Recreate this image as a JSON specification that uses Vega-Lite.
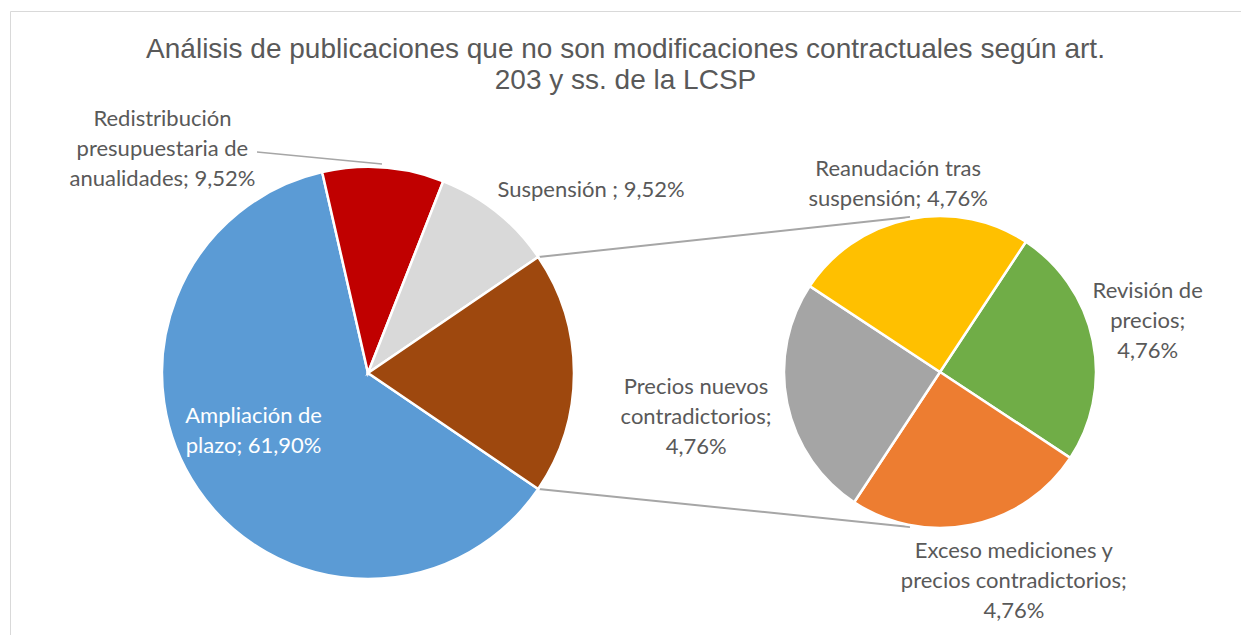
{
  "$schema": "https://vega.github.io/schema/vega-lite/v6.json",
  "width": 1231,
  "height": 624,
  "autosize": {"type": "none"},
  "padding": {"left": 10, "top": 11, "right": 0, "bottom": 0},
  "background": "white",
  "view": {"stroke": "#d9d9d9", "strokeWidth": 1},
  "title": {
    "text": ["Análisis de publicaciones que no son modificaciones contractuales según art.", "203 y ss. de la LCSP"],
    "font": "Liberation Sans",
    "fontSize": 28,
    "fontWeight": "normal",
    "color": "#595959",
    "anchor": "middle",
    "frame": "group",
    "baseline": "top",
    "lineHeight": 31,
    "offset": -84
  },
  "data": {
    "values": [
      {"categoria": "Ampliación de plazo", "valor": 61.90, "grafico": "principal", "grupo": "Ampliación de plazo", "orden": 1, "etiqueta": "Ampliación de\nplazo; 61,90%"},
      {"categoria": "Redistribución presupuestaria de anualidades", "valor": 9.52, "grafico": "principal", "grupo": "Redistribución presupuestaria de anualidades", "orden": 2, "etiqueta": "Redistribución\npresupuestaria de\nanualidades; 9,52%"},
      {"categoria": "Suspensión", "valor": 9.52, "grafico": "principal", "grupo": "Suspensión", "orden": 3, "etiqueta": "Suspensión ; 9,52%"},
      {"categoria": "Revisión de precios", "valor": 4.76, "grafico": "secundario", "grupo": "Otros", "orden": 4, "etiqueta": "Revisión de\nprecios;\n4,76%"},
      {"categoria": "Exceso mediciones y precios contradictorios", "valor": 4.76, "grafico": "secundario", "grupo": "Otros", "orden": 5, "etiqueta": "Exceso mediciones y\nprecios contradictorios;\n4,76%"},
      {"categoria": "Precios nuevos contradictorios", "valor": 4.76, "grafico": "secundario", "grupo": "Otros", "orden": 6, "etiqueta": "Precios nuevos\ncontradictorios;\n4,76%"},
      {"categoria": "Reanudación tras suspensión", "valor": 4.76, "grafico": "secundario", "grupo": "Otros", "orden": 7, "etiqueta": "Reanudación tras\nsuspensión; 4,76%"}
    ]
  },
  "layer": [
    {
      "transform": [{"aggregate": [{"op": "count", "as": "n"}]}],
      "mark": {"type": "rule", "color": "#a6a6a6", "strokeWidth": 2},
      "encoding": {
        "x": {"datum": 538.5, "type": "quantitative", "scale": {"domain": [10, 1241], "nice": false, "zero": false}, "axis": null},
        "y": {"datum": 257, "type": "quantitative", "scale": {"domain": [11, 635], "nice": false, "zero": false, "reverse": true}, "axis": null},
        "x2": {"datum": 910},
        "y2": {"datum": 217}
      }
    },
    {
      "transform": [{"aggregate": [{"op": "count", "as": "n"}]}],
      "mark": {"type": "rule", "color": "#a6a6a6", "strokeWidth": 2},
      "encoding": {
        "x": {"datum": 538.5, "type": "quantitative", "scale": {"domain": [10, 1241], "nice": false, "zero": false}, "axis": null},
        "y": {"datum": 489, "type": "quantitative", "scale": {"domain": [11, 635], "nice": false, "zero": false, "reverse": true}, "axis": null},
        "x2": {"datum": 910},
        "y2": {"datum": 527}
      }
    },
    {
      "transform": [{"aggregate": [{"op": "count", "as": "n"}]}],
      "mark": {"type": "rule", "color": "#a6a6a6", "strokeWidth": 1.5},
      "encoding": {
        "x": {"datum": 257, "type": "quantitative", "scale": {"domain": [10, 1241], "nice": false, "zero": false}, "axis": null},
        "y": {"datum": 152, "type": "quantitative", "scale": {"domain": [11, 635], "nice": false, "zero": false, "reverse": true}, "axis": null},
        "x2": {"datum": 382},
        "y2": {"datum": 164}
      }
    },
    {
      "transform": [
        {"aggregate": [
          {"op": "sum", "field": "valor", "as": "valor"},
          {"op": "min", "field": "orden", "as": "orden"},
          {"op": "max", "field": "etiqueta", "as": "etiqueta"}
        ], "groupby": ["grupo"]}
      ],
      "encoding": {
        "x": {"datum": 368, "type": "quantitative", "scale": {"domain": [10, 1241], "nice": false, "zero": false}, "axis": null},
        "y": {"datum": 373, "type": "quantitative", "scale": {"domain": [11, 635], "nice": false, "zero": false, "reverse": true}, "axis": null},
        "theta": {"field": "valor", "type": "quantitative", "stack": true, "scale": {"range": [2.1689, 8.4521]}},
        "order": {"field": "orden", "type": "quantitative"}
      },
      "layer": [
        {
          "mark": {"type": "arc", "radius": 206, "stroke": "white", "strokeWidth": 2.5},
          "encoding": {
            "color": {
              "field": "grupo", "type": "nominal", "legend": null,
              "scale": {
                "domain": ["Ampliación de plazo", "Redistribución presupuestaria de anualidades", "Suspensión", "Otros", "Revisión de precios", "Exceso mediciones y precios contradictorios", "Precios nuevos contradictorios", "Reanudación tras suspensión"],
                "range": ["#5b9bd5", "#c00000", "#d9d9d9", "#9e480e", "#70ad47", "#ed7d31", "#a5a5a5", "#ffc000"]
              }
            }
          }
        },
        {
          "mark": {"type": "text", "radius": 130, "dx": -7, "dy": -30, "align": "center", "baseline": "middle", "lineBreak": "\n", "lineHeight": 30, "font": "Lato", "fontSize": 22, "color": "white"},
          "encoding": {"text": {"condition": {"test": "datum.grupo === 'Ampliación de plazo'", "field": "etiqueta", "type": "nominal"}, "value": ""}}
        },
        {
          "mark": {"type": "text", "radius": 206, "dx": -221, "dy": -49, "align": "center", "baseline": "middle", "lineBreak": "\n", "lineHeight": 30, "font": "Lato", "fontSize": 22, "color": "#595959"},
          "encoding": {"text": {"condition": {"test": "datum.grupo === 'Redistribución presupuestaria de anualidades'", "field": "etiqueta", "type": "nominal"}, "value": ""}}
        },
        {
          "mark": {"type": "text", "radius": 206, "dx": 1, "dy": -15, "align": "left", "baseline": "alphabetic", "lineBreak": "\n", "lineHeight": 30, "font": "Lato", "fontSize": 22, "color": "#595959"},
          "encoding": {"text": {"condition": {"test": "datum.grupo === 'Suspensión'", "field": "etiqueta", "type": "nominal"}, "value": ""}}
        }
      ]
    },
    {
      "transform": [{"filter": "datum.grafico === 'secundario'"}],
      "encoding": {
        "x": {"datum": 940, "type": "quantitative", "scale": {"domain": [10, 1241], "nice": false, "zero": false}, "axis": null},
        "y": {"datum": 372, "type": "quantitative", "scale": {"domain": [11, 635], "nice": false, "zero": false, "reverse": true}, "axis": null},
        "theta": {"field": "valor", "type": "quantitative", "stack": true, "scale": {"range": [0.5829, 6.8661]}},
        "order": {"field": "orden", "type": "quantitative"}
      },
      "layer": [
        {
          "mark": {"type": "arc", "radius": 156, "stroke": "white", "strokeWidth": 2.5},
          "encoding": {
            "color": {"field": "categoria", "type": "nominal", "legend": null}
          }
        },
        {
          "mark": {"type": "text", "radius": 193, "dx": -3, "dy": -14, "align": "center", "baseline": "middle", "lineBreak": "\n", "lineHeight": 30, "font": "Lato", "fontSize": 22, "color": "#595959"},
          "encoding": {"text": {"condition": {"test": "datum.categoria === 'Reanudación tras suspensión'", "field": "etiqueta", "type": "nominal"}, "value": ""}}
        },
        {
          "mark": {"type": "text", "radius": 212, "dx": 0, "dy": -38, "align": "center", "baseline": "middle", "lineBreak": "\n", "lineHeight": 30, "font": "Lato", "fontSize": 22, "color": "#595959"},
          "encoding": {"text": {"condition": {"test": "datum.categoria === 'Revisión de precios'", "field": "etiqueta", "type": "nominal"}, "value": ""}}
        },
        {
          "mark": {"type": "text", "radius": 213, "dx": 31, "dy": -30, "align": "center", "baseline": "middle", "lineBreak": "\n", "lineHeight": 30, "font": "Lato", "fontSize": 22, "color": "#595959"},
          "encoding": {"text": {"condition": {"test": "datum.categoria === 'Exceso mediciones y precios contradictorios'", "field": "etiqueta", "type": "nominal"}, "value": ""}}
        },
        {
          "mark": {"type": "text", "radius": 249, "dx": 0, "dy": -35, "align": "center", "baseline": "middle", "lineBreak": "\n", "lineHeight": 30, "font": "Lato", "fontSize": 22, "color": "#595959"},
          "encoding": {"text": {"condition": {"test": "datum.categoria === 'Precios nuevos contradictorios'", "field": "etiqueta", "type": "nominal"}, "value": ""}}
        }
      ]
    }
  ],
  "resolve": {"scale": {"theta": "independent"}}
}
